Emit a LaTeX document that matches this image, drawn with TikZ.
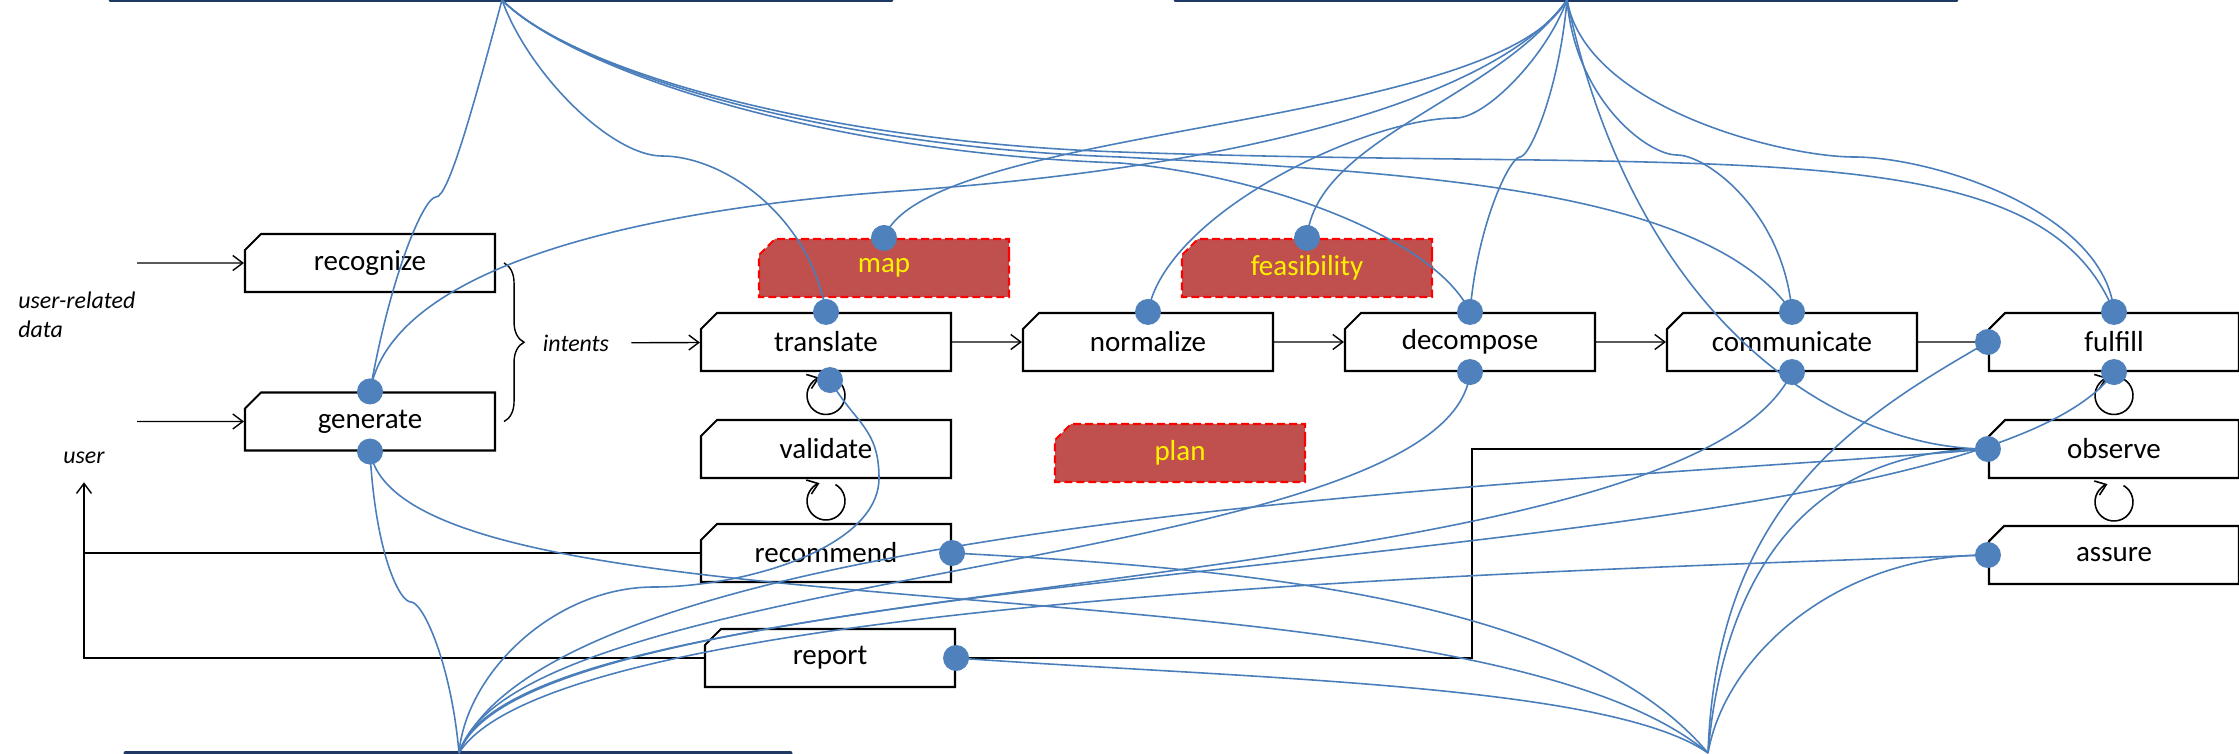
\documentclass[tikz,border=0pt]{standalone}
\usepackage{fontspec}
\setmainfont{Carlito}
\usetikzlibrary{shapes.misc,positioning,calc,arrows.meta,decorations.pathreplacing}

\definecolor{wireblue}{HTML}{4A7EBB}
\definecolor{dotblue}{HTML}{4F81BD}
\definecolor{barnavy}{HTML}{1F3864}
\definecolor{gapred}{HTML}{C0504D}

\tikzset{
  act/.style={chamfered rectangle, chamfered rectangle corners=north west,
    chamfered rectangle xsep=0.08cm, chamfered rectangle ysep=0.08cm,
    draw, line width=0.6pt, fill=white, inner sep=0pt,
    minimum width=2.5cm, minimum height=0.58cm,
    font=\fontsize{8.25}{10}\selectfont},
  gap/.style={act, draw=red, dashed, dash pattern=on 0.08cm off 0.04cm,
    fill=gapred, text=yellow},
  lbl/.style={font=\fontsize{6.8}{8.2}\selectfont\itshape},
  wire/.style={draw=wireblue, line width=0.45pt},
  dot/.style={fill=dotblue},
  bar/.style={draw=barnavy, line width=0.05cm, line cap=round},
  loopy/.style={->, line width=0.45pt},
}

\begin{document}
\begin{tikzpicture}[node distance=3.22cm, on grid,
    >={Straight Barb[length=1mm,width=1.5mm]}]
  \useasboundingbox (0,0) rectangle (22.39,7.53);

  % hubs
  \draw[bar] (1.11,7.53) -- (8.91,7.53);
  \draw[bar] (11.76,7.53) -- (19.56,7.53);
  \draw[bar] (1.26,0) -- (7.90,0);
  \coordinate (tl) at (5.02,7.53);
  \coordinate (tr) at (15.67,7.53);
  \coordinate (bl) at (4.59,0);
  \coordinate (br) at (17.08,0);

  % boxes
  \node[act] (rcg) at (3.70,4.90) {recognize};
  \node[act] (gen) [below=1.585cm of rcg] {generate};
  \node[act] (trn) at (8.26,4.11) {translate};
  \node[act] (nrm) [right=of trn] {normalize};
  \node[act] (dec) [right=of nrm] {decompose};
  \node[act] (com) [right=of dec] {communicate};
  \node[act] (ful) [right=of com] {fulfill};
  \node[act] (val) [below=1.07cm of trn] {validate};
  \node[act] (rec) [below=1.04cm of val] {recommend};
  \node[act] (rep) [below=1.05cm of rec, xshift=0.04cm] {report};
  \node[act] (obs) [below=1.07cm of ful] {observe};
  \node[act] (asr) [below=1.06cm of obs] {assure};
  \node[gap] (map) [above right=0.74cm and 0.58cm of trn] {map};
  \node[gap] (feas) [above right=0.74cm and 1.59cm of nrm] {feasibility};
  \node[gap] (plan) [below right=1.11cm and 0.32cm of nrm] {plan};

  % labels
  \node[lbl, align=left, anchor=west] (urd) at (0.06,4.385) {user-related\\data};
  \node[lbl] (intents) at (5.76,4.10) {intents};
  \node[lbl] (usr) at (0.84,2.95) {user};
  \coordinate (src1) at (1.37,4.90);
  \coordinate (src2) at (1.37,3.315);

  % black flow
  \draw[->] (src1) -- (rcg);
  \draw[->] (src2) -- (gen);
  \draw[decorate, decoration={brace, amplitude=0.2cm}]
    ([xshift=0.08cm]rcg.east) -- ([xshift=0.08cm]gen.east);
  \draw[->, shorten <=0.1cm] (intents) -- (trn);
  \draw[->] (trn) -- (nrm);
  \draw[->] (nrm) -- (dec);
  \draw[->] (dec) -- (com);
  \draw[->] (com) -- (ful);
  \draw[->, shorten >=0.06cm] (rep.west) -| (usr.south);
  \draw (rec.west) -- (rec.west -| usr.south);
  \draw (obs.west) -- ++(-5.16,0) |- (rep.east);

  % self loops
  \draw[loopy] ($(trn.south)!.5!(val.north)$) ++(60:0.19) arc[start angle=60, end angle=-250, radius=0.19];
  \draw[loopy] ($(val.south)!.5!(rec.north)$) ++(60:0.19) arc[start angle=60, end angle=-250, radius=0.19];
  \draw[loopy] ($(ful.south)!.5!(obs.north)$) ++(60:0.19) arc[start angle=60, end angle=-250, radius=0.19];
  \draw[loopy] ($(obs.south)!.5!(asr.north)$) ++(60:0.19) arc[start angle=60, end angle=-250, radius=0.19];

  % wires to the top left hub
  \draw[wire] (tl) .. controls +(-105:1.2) and +(0:0.12) .. (4.36,5.56)
    .. controls +(180:0.12) and +(80:1.2) .. (gen.north);
  \draw[wire] (tl) .. controls +(-70:0.8) and +(180:0.5) .. (6.62,5.97)
    .. controls +(0:0.6) and +(100:1.0) .. (trn.north);
  \draw[wire] (tl) .. controls +(-45:1.0) and +(178:3.0) .. (11.2,5.90)
    .. controls +(-5:1.5) and +(115:0.8) .. (dec.north);
  \draw[wire] (tl) .. controls +(-45:1.0) and +(178:3.0) .. (11.2,5.96)
    .. controls +(-3:3.0) and +(125:1.5) .. (com.north);
  \draw[wire] (tl) .. controls +(-45:1.0) and +(178:3.0) .. (11.2,6.01)
    .. controls +(-2:6.0) and +(112:2.0) .. (ful.north);

  % wires to the top right hub
  \draw[wire] (tr) .. controls +(-120:1.5) and +(70:1.2) .. (map.north);
  \draw[wire] (tr) .. controls +(-110:0.6) and +(0:0.3) .. (14.56,6.35)
    .. controls +(180:0.9) and +(80:1.0) .. (nrm.north);
  \draw[wire] (tr) .. controls +(-125:1.2) and +(85:1.0) .. (feas.north);
  \draw[wire] (tr) .. controls +(-95:0.9) and +(0:0.1) .. (15.20,5.96)
    .. controls +(180:0.1) and +(85:0.9) .. (dec.north);
  \draw[wire] (tr) .. controls +(-85:1.0) and +(180:0.3) .. (16.77,5.98)
    .. controls +(0:0.3) and +(95:1.0) .. (com.north);
  \draw[wire] (tr) .. controls +(-80:1.1) and +(180:0.7) .. (18.54,5.96)
    .. controls +(0:0.8) and +(95:1.0) .. (ful.north);
  \draw[wire] (gen.north) .. controls +(80:1.3) and +(184:2.5) .. (9.0,5.62)
    .. controls +(4:4.0) and +(-125:1.0) .. (tr);
  \draw[wire] (tr) .. controls +(-78:3.3) and +(180:1.5) .. (obs.west);

  % wires to the bottom left hub
  \coordinate (trnb) at ([shift={(0.04,-0.08)}]trn.south);
  \draw[wire] (gen.south) .. controls +(-87:1.0) and +(180:0.12) .. (4.11,1.51)
    .. controls +(0:0.12) and +(95:0.9) .. (bl);
  \draw[wire] (trnb) .. controls +(-60:0.5) and +(90:0.5) .. (8.79,2.75)
    .. controls +(-90:0.7) and +(0:0.9) .. (6.54,1.66)
    .. controls +(180:1.0) and +(85:0.8) .. (bl);
  \draw[wire] (bl) .. controls +(72:2.0) and +(-95:2.0) .. (dec.south);
  \draw[wire] (bl) .. controls +(72:2.0) and +(-115:2.6) .. (com.south);
  \draw[wire] (bl) .. controls +(70:2.2) and +(-125:2.6) .. (ful.south);
  \draw[wire] (bl) .. controls +(68:2.6) and +(-175:4.0) .. (obs.west);
  \draw[wire] (bl) .. controls +(58:1.8) and +(-178:5.0) .. (asr.west);

  % wires to the bottom right hub
  \draw[wire] (rep.east) .. controls +(-4:3.0) and +(145:1.2) .. (br);
  \draw[wire] (gen.south) .. controls +(-80:2.0) and +(140:3.2) .. (br);
  \draw[wire] (rec.east) .. controls +(-3:3.0) and +(130:2.0) .. (br);
  \draw[wire] (br) .. controls +(88:2.5) and +(-150:1.5) .. (ful.west);
  \draw[wire] (br) .. controls +(85:1.8) and +(180:1.8) .. (obs.west);
  \draw[wire] (br) .. controls +(80:1.0) and +(180:1.5) .. (asr.west);

  % connection points
  \fill[dot] (gen.north) circle (0.13) (gen.south) circle (0.13)
    (trn.north) circle (0.13) (trnb) circle (0.13)
    (map.north) circle (0.13) (nrm.north) circle (0.13)
    (feas.north) circle (0.13) (dec.north) circle (0.13)
    (dec.south) circle (0.13) (com.north) circle (0.13)
    (com.south) circle (0.13) (ful.north) circle (0.13)
    (ful.west) circle (0.13) (ful.south) circle (0.13)
    (obs.west) circle (0.13) (asr.west) circle (0.13)
    (rec.east) circle (0.13) (rep.east) circle (0.13);
\end{tikzpicture}
\end{document}
